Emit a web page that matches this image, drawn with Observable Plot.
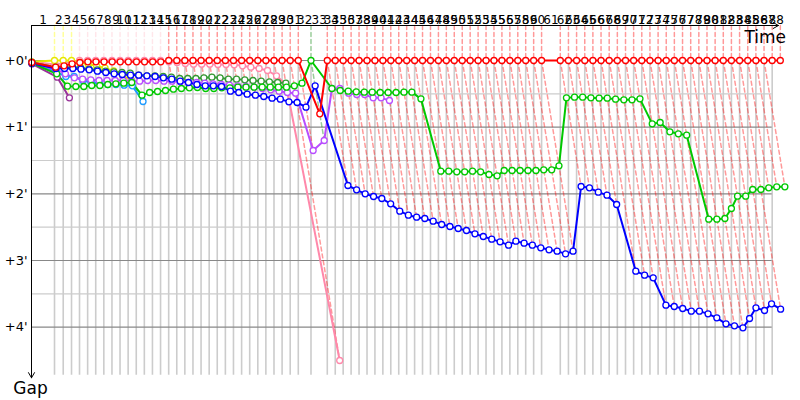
<!DOCTYPE html>
<html><head><meta charset="utf-8">
<script src="https://cdn.jsdelivr.net/npm/d3@7"></script>
<script src="https://cdn.jsdelivr.net/npm/@observablehq/plot@0.6"></script>
<style>body{margin:0;background:#fff;} svg{display:block}</style>
</head><body><div id="chart"></div>
<script>
// Leader lap durations (seconds), laps 1..88
const lapSeconds = [
  125.5, 47.5, 45.3, 43.6,
  44.3, 44.1, 44.2, 44.4, 44.0, 44.2, 44.3, 44.1, 44.2, 44.2, 44.4, 44.1, 44.0, 44.3,
  44.2, 44.2, 44.1, 44.3, 44.2, 44.4, 44.1, 44.2, 44.0, 44.3, 44.2, 44.2, 44.1,
  69.3, 88.9,
  43.4, 43.2, 43.3, 43.3, 43.5, 43.1, 43.3, 43.2, 43.4, 43.3, 43.3, 43.2, 43.4, 43.3,
  43.1, 43.3, 43.5, 43.2, 43.3, 43.3, 43.2, 43.4, 43.3, 43.3, 43.1, 43.4, 43.3,
  102.0,
  44.5, 44.4, 44.6, 44.3, 44.5, 44.4, 44.5, 44.6, 44.3, 44.4, 44.5, 44.5, 44.4, 44.3,
  44.6, 44.5, 44.4, 44.5, 44.4, 44.5, 44.3, 44.6, 44.4, 44.5, 44.4, 44.5, 44.4
];

const carNames  = ["Pink", "Yellow", "DarkPurple", "Sky", "DarkGreen", "Violet", "Green", "Blue", "Red"];
const carColors = ["#ff88aa", "#e6e600", "#993399", "#1e9bff", "#339933", "#b84dff", "#00c800", "#0000ff", "#ff0000"];

// Gaps to leader in minutes, index = lap (0 = start)
const gapsPink = [0.02, 0.06, 0.04, 0.02, 0, 0, 0, 0, 0, 0, 0, 0, 0, 0, 0,
  0.02, 0.03, 0.045, 0.055, 0.055, 0.055, 0.06, 0.06, 0.065, 0.08, 0.10, 0.12, 0.15, 0.23, 0.36, 4.5];
const gapsYellow = [0.02, 0, 0, 0, 0.03, 0.055, 0.08, 0.115, 0.155, 0.225, 0.29];
const gapsDarkPurple = [0.05, 0.25, 0.56];
const gapsSky = [0.03, 0.17, 0.24, 0.24, 0.30, 0.33, 0.345, 0.36, 0.36, 0.37, 0.38, 0.615];
const gapsDarkGreen = [0.03, 0.10, 0.10, 0.10, 0.11, 0.13, 0.14, 0.16, 0.17, 0.18, 0.19, 0.22, 0.23, 0.23, 0.24,
  0.25, 0.27, 0.27, 0.27, 0.26, 0.25, 0.26, 0.28, 0.28, 0.29, 0.30, 0.31, 0.32, 0.33, 0.34];
const gapsViolet = [0.05, 0.13, 0.20, 0.26, 0.28, 0.29, 0.30, 0.30, 0.30, 0.30, 0.31, 0.31, 0.30, 0.30, 0.31,
  0.31, 0.32, 0.33, 0.33, 0.34, 0.35, 0.36, 0.37, 0.38, 0.39, 0.40, 0.42, 0.44, 0.46, 0.48,
  0.49, 1.35, 1.20, 0.42, 0.42, 0.49, 0.51, 0.51, 0.56, 0.56, 0.60];
const gapsGreen = [0.04, 0.20, 0.385, 0.39, 0.39, 0.375, 0.375, 0.36, 0.35, 0.34, 0.33, 0.52, 0.48, 0.465, 0.45,
  0.43, 0.42, 0.41, 0.405, 0.42, 0.42, 0.41, 0.41, 0.40, 0.40, 0.40, 0.40, 0.40, 0.40, 0.40,
  0.38, 0.34, 0, 0.42, 0.45, 0.46, 0.47, 0.475, 0.475, 0.48, 0.48, 0.48, 0.475, 0.475, 0.575,
  1.66, 1.66, 1.67, 1.67, 1.66, 1.67, 1.71, 1.73, 1.65, 1.65, 1.65, 1.65, 1.65, 1.64, 1.64,
  1.58, 0.56, 0.55, 0.55, 0.56, 0.565, 0.565, 0.58, 0.59, 0.59, 0.575, 0.95, 0.93, 1.07, 1.10,
  1.12, 2.38, 2.38, 2.37, 2.22, 2.035, 2.035, 1.935, 1.935, 1.91, 1.895, 1.895];
const gapsBlue = [0.04, 0.12, 0.12, 0.12, 0.13, 0.14, 0.16, 0.18, 0.20, 0.21, 0.22, 0.22, 0.23, 0.24, 0.26,
  0.28, 0.31, 0.33, 0.36, 0.38, 0.38, 0.39, 0.46, 0.48, 0.505, 0.52, 0.54, 0.565, 0.58, 0.62,
  0.63, 0.70, 0.38, 1.875, 1.94, 2.0, 2.04, 2.07, 2.15, 2.26, 2.32, 2.35, 2.37, 2.41, 2.46,
  2.49, 2.52, 2.55, 2.60, 2.64, 2.68, 2.72, 2.77, 2.71, 2.74, 2.77, 2.81, 2.84, 2.86, 2.90,
  2.86, 1.89, 1.91, 1.975, 2.02, 2.16, 3.16, 3.22, 3.26, 3.67, 3.69, 3.72, 3.76, 3.76, 3.80,
  3.86, 3.95, 3.98, 4.01, 3.87, 3.71, 3.75, 3.65, 3.73];
const gapsRed = [0.03, 0.10, 0.08, 0.05, 0.03, 0.02, 0.02, 0.02, 0.02, 0.02, 0.02, 0.02, 0.02, 0.02, 0.02,
  0, 0, 0, 0, 0, 0, 0, 0, 0, 0, 0, 0, 0, 0, 0,
  0, 0, 0.8, 0, 0, 0, 0, 0, 0, 0, 0, 0, 0, 0, 0,
  0, 0, 0, 0, 0, 0, 0, 0, 0, 0, 0, 0, 0, 0, 0,
  0, 0, 0, 0, 0, 0, 0, 0, 0, 0, 0, 0, 0, 0, 0,
  0, 0, 0, 0, 0, 0, 0, 0, 0, 0, 0, 0, 0, 0];

const yTicks = [0, 1, 2, 3, 4];
const yHalfTicks = [0.5, 1.5, 2.5, 3.5];
const yTop = -0.525, yBottom = 4.8;

const series = [gapsPink, gapsYellow, gapsDarkPurple, gapsSky, gapsDarkGreen, gapsViolet, gapsGreen, gapsBlue, gapsRed];
const lapEnd = [0, ...Array.from(d3.cumsum(lapSeconds), s => s / 60)];
const nLaps = lapSeconds.length;

const points = [];
series.forEach((gaps, i) => gaps.forEach((g, lap) => {
  if (g != null) points.push({car: carNames[i], lap, gap: g, time: lapEnd[lap] + g});
}));

// per-lap leader and slowest car → lap lines
const lapLines = [];
for (let lap = 1; lap <= nLaps; lap++) {
  const onLap = points.filter(p => p.lap === lap);
  const leader = d3.least(onLap, p => p.gap);
  const last = d3.greatest(onLap, p => p.gap);
  const t = lapEnd[lap];
  lapLines.push({lap, leader: leader.car, x: t, y: yTop});
  lapLines.push({lap, leader: leader.car, x: t, y: 0});
  lapLines.push({lap, leader: leader.car, x: t + last.gap, y: last.gap});
}
const lapLabels = d3.range(1, nLaps + 1).map(k => ({k, x: (lapEnd[k - 1] + lapEnd[k]) / 2}));
const gridEnd = lapEnd[nLaps - 1];
const grayLaps = d3.range(1, nLaps);

const chart = Plot.plot({
  width: 800, height: 400,
  marginLeft: 31, marginRight: 10, marginTop: 25, marginBottom: 20,
  x: {domain: [0, 69], axis: null},
  y: {domain: [yTop, yBottom], reverse: true, axis: null},
  color: {domain: carNames, range: carColors},
  style: {fontFamily: "DejaVu Sans, sans-serif", background: "white", overflow: "visible"},
  marks: [
    Plot.ruleX(grayLaps, {x: k => lapEnd[k], y1: () => 0, y2: () => 4.72, stroke: "#cccccc", strokeWidth: 1.6}),
    Plot.ruleY(yHalfTicks, {y: d => d, x1: () => 0, x2: () => gridEnd, stroke: "#cccccc", strokeWidth: 1.2}),
    Plot.ruleY(yTicks, {y: d => d, x1: () => 0, x2: () => gridEnd, stroke: "#888888", strokeWidth: 1.2}),
    Plot.line(lapLines, {x: "x", y: "y", z: "lap", stroke: "leader", strokeOpacity: 0.4, strokeWidth: 1.5, strokeDasharray: "4,3"}),
    Plot.line(points, {x: "time", y: "gap", z: "car", stroke: "car", strokeWidth: 2}),
    Plot.dot(points, {x: "time", y: "gap", stroke: "car", fill: "white", r: 3, strokeWidth: 1.3}),
    Plot.arrow([0], {x1: () => 0, y1: () => yTop, x2: () => 67.9, y2: () => yTop, stroke: "black", strokeWidth: 1, headLength: 9}),
    Plot.arrow([0], {x1: () => 0, y1: () => yTop, x2: () => 0, y2: () => 4.76, stroke: "black", strokeWidth: 1, headLength: 9}),
    Plot.text(lapLabels, {x: "x", y: () => yTop, text: d => String(d.k), lineAnchor: "bottom", dy: -2, fontSize: 12, fill: "black"}),
    Plot.text(yTicks, {x: () => 0, y: d => d, text: d => `+${d}'`, textAnchor: "end", dx: -4, fontSize: 13, fill: "black"}),
    Plot.text(["Time"], {x: () => 66.7, y: () => -0.345, text: d => d, fontSize: 17, fill: "black"}),
    Plot.text(["Gap"], {x: () => -0.09, y: () => 4.92, text: d => d, fontSize: 17, fill: "black"})
  ]
});
document.getElementById("chart").append(chart);
</script>
</body></html>
